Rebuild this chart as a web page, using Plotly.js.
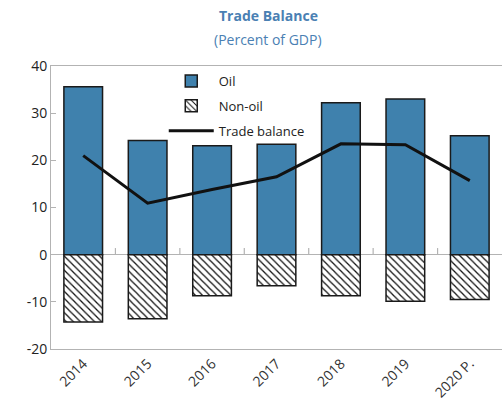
<!DOCTYPE html>
<html>
<head>
<meta charset="utf-8">
<script src="https://cdn.plot.ly/plotly-3.0.1.min.js"></script>
<style>html,body{margin:0;padding:0;background:#fff;}#chart{width:502px;height:416px;}</style>
</head>
<body>
<div id="chart"></div>
<script>
const years = ["2014", "2015", "2016", "2017", "2018", "2019", "2020 P."];
const oil = [35.6, 24.2, 23.1, 23.4, 32.2, 33.0, 25.2];
const nonOil = [-14.3, -13.6, -8.7, -6.6, -8.7, -9.9, -9.5];
const tradeBalance = [21.0, 10.9, 13.8, 16.5, 23.5, 23.3, 15.7];
const yTicks = [-20, -10, 0, 10, 20, 30, 40];
const boundaries = [0.5, 1.5, 2.5, 3.5, 4.5, 5.5];

const font = "Open Sans, Noto Sans, sans-serif";
const titleColor = "#4a80b3";
const axisGray = "#b3b3b3";

const traces = [
  {type: "bar", name: "Oil", x: years, y: oil, legendgroup: "a",
   marker: {color: "#3f81ad", line: {color: "#1a1a1a", width: 1.5}}},
  {type: "bar", name: "Non-oil", x: years, y: nonOil, legendgroup: "b",
   marker: {color: "#ffffff", line: {color: "#1a1a1a", width: 1.5},
            pattern: {shape: "\\", fgcolor: "#111", bgcolor: "#ffffff", size: 5, solidity: 0.25}}},
  {type: "scatter", mode: "lines", name: "Trade balance", x: years, y: tradeBalance, legendgroup: "c",
   line: {color: "#111", width: 3}}
];

const tickShapes = boundaries.map(b => ({
  type: "line", xref: "x", yref: "y",
  x0: b, x1: b, y0: 0, y1: 1.4, layer: "above",
  line: {color: axisGray, width: 1.2}
}));

const layout = {
  width: 502, height: 416,
  margin: {l: 51, r: 0, t: 66, b: 67, pad: 0},
  paper_bgcolor: "#fff", plot_bgcolor: "#fff",
  font: {family: font, size: 13, color: "#222"},
  barmode: "relative",
  bargap: 0.4,
  showlegend: true,
  legend: {x: 0.25, y: 1.0, xanchor: "left", yanchor: "top", bgcolor: "rgba(0,0,0,0)",
           font: {family: font, size: 13, color: "#222"}, itemwidth: 45, tracegroupgap: 5},
  xaxis: {type: "category", categoryarray: years, range: [-0.5, 6.5],
          showline: true, linecolor: axisGray, linewidth: 1, mirror: true,
          ticks: "", tickangle: -45, tickfont: {family: font, size: 14, color: "#333"},
          showgrid: false, zeroline: false},
  yaxis: {range: [-20, 40], tickvals: yTicks, ticktext: yTicks.map(String),
          showline: true, linecolor: axisGray, linewidth: 1, mirror: true,
          ticks: "inside", ticklen: 5, tickcolor: axisGray,
          tickfont: {family: font, size: 14, color: "#222"},
          showgrid: false, zeroline: true, zerolinecolor: axisGray, zerolinewidth: 1},
  shapes: tickShapes,
  annotations: [
    {text: "<b>Trade Balance</b>", xref: "paper", yref: "paper", x: 217/451, y: 1 + 51/283,
     xanchor: "center", yanchor: "middle", showarrow: false,
     font: {family: font, size: 14, color: titleColor}},
    {text: "(Percent of GDP)", xref: "paper", yref: "paper", x: 217/451, y: 1 + 27/283,
     xanchor: "center", yanchor: "middle", showarrow: false,
     font: {family: font, size: 14, color: titleColor}}
  ]
};

Plotly.newPlot("chart", traces, layout, {displayModeBar: false, staticPlot: true});
</script>
</body>
</html>
